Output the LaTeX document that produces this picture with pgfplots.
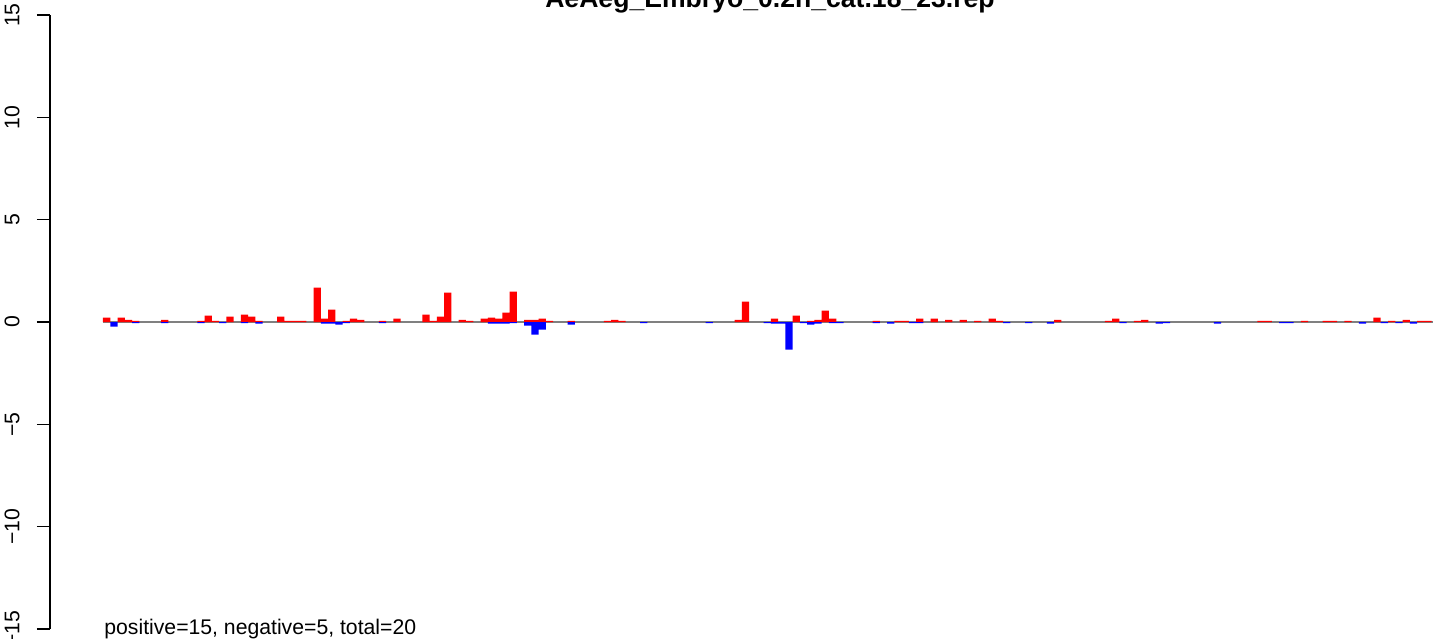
\documentclass[border=0pt]{standalone}
\usepackage{pgfplots}
\usepackage{pgfplotstable}
\pgfplotsset{compat=1.18}
\usepackage{fontspec}
\setmainfont{Liberation Sans}

% positive parts (red)
\pgfplotstableread{
x y
0 0.21
2 0.21
3 0.11
4 0.05
8 0.11
13 0.06
14 0.31
15 0.06
17 0.26
19 0.36
20 0.26
21 0.06
24 0.26
25 0.05
26 0.06
27 0.06
29 1.68
30 0.16
31 0.60
33 0.06
34 0.16
35 0.11
38 0.06
40 0.16
44 0.36
45 0.05
46 0.26
47 1.43
49 0.11
50 0.05
52 0.16
53 0.21
54 0.16
55 0.46
56 1.48
58 0.11
59 0.11
60 0.16
61 0.05
64 0.06
69 0.05
70 0.11
71 0.06
87 0.11
88 0.99
92 0.16
95 0.31
97 0.06
98 0.11
99 0.55
100 0.16
106 0.06
109 0.05
110 0.05
112 0.16
114 0.16
116 0.11
118 0.11
120 0.05
122 0.16
123 0.05
131 0.11
138 0.05
139 0.16
142 0.05
143 0.11
159 0.05
160 0.05
165 0.05
168 0.05
169 0.06
171 0.05
175 0.21
177 0.05
179 0.11
181 0.05
182 0.05
}\pos

% negative parts (blue)
\pgfplotstableread{
x y
1 -0.23
4 -0.05
8 -0.05
13 -0.05
16 -0.05
19 -0.05
21 -0.08
30 -0.08
31 -0.08
32 -0.13
33 -0.05
38 -0.05
53 -0.08
54 -0.08
55 -0.08
56 -0.05
58 -0.18
59 -0.62
60 -0.37
64 -0.13
74 -0.05
83 -0.05
91 -0.05
92 -0.08
93 -0.08
94 -1.35
96 -0.05
97 -0.13
98 -0.08
100 -0.05
101 -0.05
106 -0.05
108 -0.08
111 -0.05
112 -0.05
124 -0.05
127 -0.05
130 -0.08
140 -0.05
145 -0.08
146 -0.05
153 -0.08
162 -0.05
163 -0.05
173 -0.08
176 -0.05
178 -0.05
180 -0.08
}\negs

\begin{document}
\begin{tikzpicture}
\begin{axis}[
  at={(0,0)}, anchor=south west,
  scale only axis, width=691.5pt, height=307pt,
  xmin=-7.8, xmax=182.7, ymin=-15, ymax=15,
  axis x line=none, axis y line*=left,
  ytick={-15,-10,-5,0,5,10,15},
  yticklabels={−15,−10,−5,0,5,10,15},
  tick align=outside, major tick length=6.5pt,
  yticklabel style={rotate=90, anchor=south, inner sep=0pt,
    font=\fontsize{10.6}{12}\selectfont},
  yticklabel shift=8.5pt,
  axis line style={line width=0.6pt},
  tick style={line width=0.6pt, black},
  clip=false,
]
\addplot[gray, line width=0.6pt] coordinates {(-0.5,0) (182.7,0)};
\addplot[ybar, bar width=1, fill=red, draw=none] table {\pos};
\addplot[ybar, bar width=1, fill=blue, draw=none] table {\negs};
\end{axis}
\node[anchor=base, font=\bfseries\fontsize{13.3}{15}\selectfont] at (360pt,310.5pt) {AeAeg\_Embryo\_0.2h\_cat.18\_23.rep};
\node[anchor=base west, inner sep=0pt, font=\fontsize{10.6}{12}\selectfont] at (27pt,-2.5pt) {positive=15, negative=5, total=20};
\pgfresetboundingbox
\path[use as bounding box] (-25pt,-4.5pt) rectangle (691.5pt,314.5pt);
\end{tikzpicture}
\end{document}
